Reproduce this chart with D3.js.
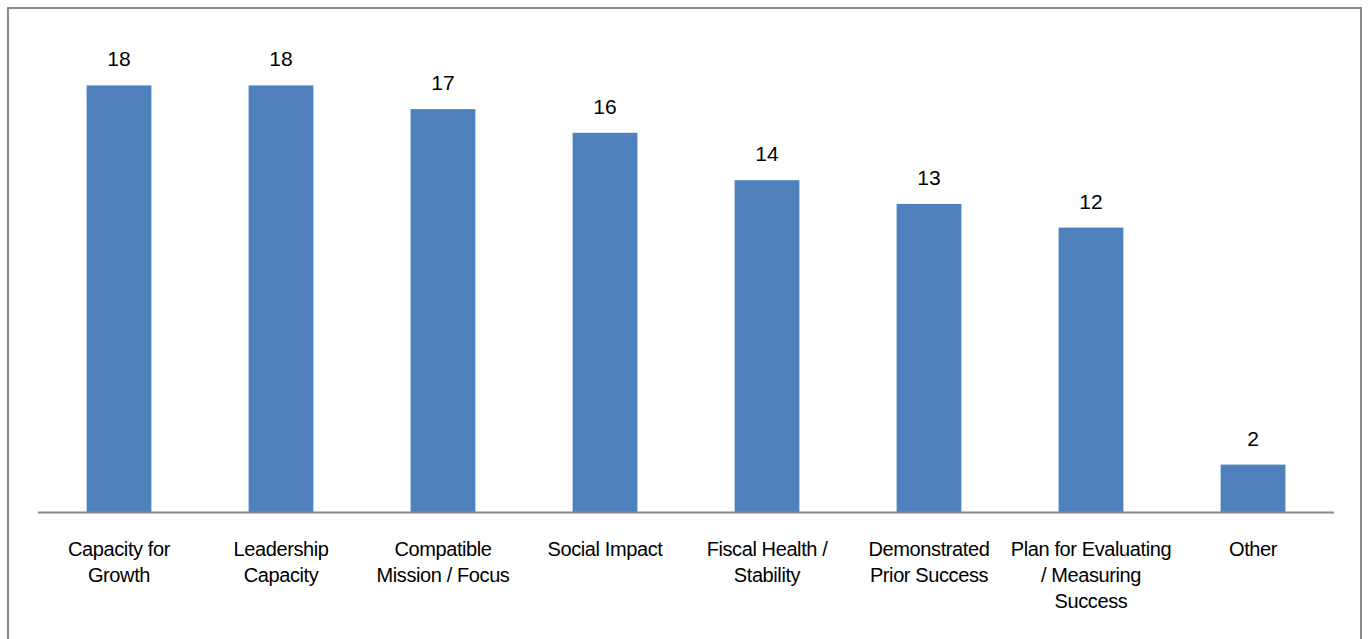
<!DOCTYPE html>
<html><head><meta charset="utf-8">
<script src="https://cdn.jsdelivr.net/npm/d3@7"></script>
<style>body{margin:0;background:#fff;}svg{display:block;}</style>
</head><body>
<script>
const categories = [
  ["Capacity for", "Growth"],
  ["Leadership", "Capacity"],
  ["Compatible", "Mission / Focus"],
  ["Social Impact"],
  ["Fiscal Health /", "Stability"],
  ["Demonstrated", "Prior Success"],
  ["Plan for Evaluating", "/ Measuring", "Success"],
  ["Other"]
];
const values = [18, 18, 17, 16, 14, 13, 12, 2];
const yMax = 20;

const W = 1368, H = 639;
const svg = d3.select("body").append("svg").attr("width", W).attr("height", H);
svg.append("rect").attr("x", 8).attr("y", 8).attr("width", 1353).attr("height", 640)
  .attr("fill", "#fff").attr("stroke", "#888").attr("stroke-width", 2);

const x0 = 38, x1 = 1334, yBase = 512, yTop = 38;
const x = d3.scaleBand().domain(d3.range(values.length)).range([x0, x1]).paddingInner(0.6).paddingOuter(0.3);
const y = d3.scaleLinear().domain([0, yMax]).range([yBase, yTop]);

svg.selectAll("rect.bar").data(values).join("rect").attr("class", "bar")
  .attr("x", (d, i) => x(i)).attr("width", x.bandwidth())
  .attr("y", d => y(d)).attr("height", d => yBase - y(d))
  .attr("fill", "#4f81bd");

svg.append("line").attr("x1", x0).attr("x2", x1).attr("y1", yBase + 0.5).attr("y2", yBase + 0.5)
  .attr("stroke", "#888").attr("stroke-width", 2);

svg.selectAll("text.val").data(values).join("text").attr("class", "val")
  .attr("x", (d, i) => x(i) + x.bandwidth() / 2).attr("y", d => y(d) - 19)
  .attr("text-anchor", "middle").attr("font-family", "Liberation Sans, Arial, sans-serif")
  .attr("font-size", 21).attr("fill", "#000").text(d => d);

const g = svg.selectAll("text.cat").data(categories).join("text").attr("class", "cat")
  .attr("text-anchor", "middle").attr("font-family", "Liberation Sans, Arial, sans-serif")
  .attr("font-size", 20).attr("letter-spacing", -0.4).attr("fill", "#000");
g.each(function(lines, i) {
  const t = d3.select(this);
  lines.forEach((l, j) => {
    t.append("tspan").attr("x", x(i) + x.bandwidth() / 2).attr("y", 556 + j * 26).text(l);
  });
});
</script>
</body></html>
